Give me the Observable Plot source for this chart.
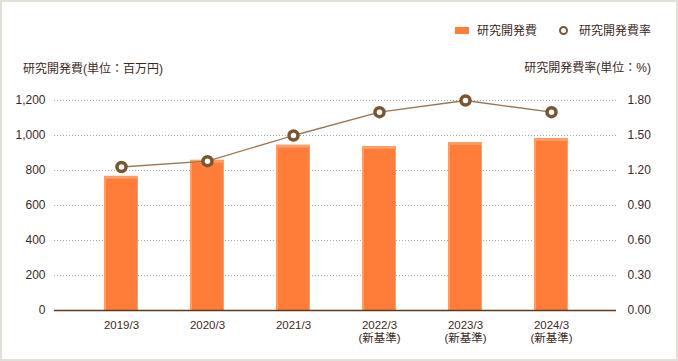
<!DOCTYPE html>
<html><head><meta charset="utf-8">
<script src="https://cdn.jsdelivr.net/npm/d3@7"></script>
<script src="https://cdn.jsdelivr.net/npm/@observablehq/plot@0.6"></script>
<style>
body{margin:0;background:#fff;}
#wrap{position:relative;width:678px;height:361px;font-family:"Liberation Sans","Noto Sans CJK JP",sans-serif;color:#3d2a1d;overflow:hidden;}
#chart{position:absolute;left:0;top:0;}
#frame{position:absolute;left:0;top:0;width:678px;height:361px;box-sizing:border-box;border:2px solid #e2dfd8;pointer-events:none;}
.t{position:absolute;font-size:12px;line-height:12px;white-space:nowrap;}
.sw{position:absolute;left:455px;top:27px;width:14px;height:7px;background:#ff7d38;}
.ring{position:absolute;left:559px;top:26px;width:5px;height:5px;border:2.5px solid #7a5530;border-radius:50%;background:#fff;}
</style></head><body>
<div id="wrap">
<div id="chart"></div>
<div class="sw"></div>
<div class="t" style="left:477px;top:25px">研究開発費</div>
<div class="ring"></div>
<div class="t" style="left:579px;top:25px">研究開発費率</div>
<div class="t" style="left:23px;top:63px">研究開発費(単位：百万円)</div>
<div class="t" style="right:27px;top:62px">研究開発費率(単位：%)</div>
<div id="frame"></div>
</div>
<script>
const categories = ["2019/3","2020/3","2021/3","2022/3","2023/3","2024/3"];
const xLabels = ["2019/3","2020/3","2021/3","2022/3\n(新基準)","2023/3\n(新基準)","2024/3\n(新基準)"];
const rdExpense = [767, 859, 945, 937, 960, 983];
const rdRatio = [1.23, 1.28, 1.50, 1.70, 1.80, 1.70];
const leftTicks = [0, 200, 400, 600, 800, 1000, 1200];
const rightTicks = ["0.00","0.30","0.60","0.90","1.20","1.50","1.80"];
const leftMax = 1200, rightMax = 1.8;

const k = leftMax / rightMax;
const data = categories.map((c, i) => ({cat: c, label: xLabels[i], expense: rdExpense[i], ratio: rdRatio[i]}));
const labelOf = Object.fromEntries(data.map(d => [d.cat, d.label]));

const chart = Plot.plot({
  width: 678,
  height: 361,
  marginLeft: 54,
  marginRight: 62,
  marginTop: 100,
  marginBottom: 51,
  style: {fontFamily: "'Liberation Sans', 'Noto Sans CJK JP', sans-serif", fontSize: "12px", color: "#3d2a1d", background: "transparent"},
  x: {domain: categories, range: [78, 595], paddingInner: 0.6, paddingOuter: 0.3},
  y: {domain: [0, leftMax]},
  marks: [
    Plot.ruleY(leftTicks.filter(d => d > 0), {stroke: "#a9a39b", strokeDasharray: "1,2", strokeWidth: 1}),
    Plot.barY(data, {x: "cat", y: "expense", fill: "#ff9d66"}),
    Plot.barY(data, {x: "cat", y: "expense", fill: "#ff7d38", insetLeft: 2, insetTop: 3, insetRight: 1}),
    Plot.ruleY([0], {stroke: "#5b3b1f", strokeWidth: 1.5}),
    Plot.line(data, {x: "cat", y: d => d.ratio * k, stroke: "#9b7652", strokeWidth: 1.3}),
    Plot.dot(data, {x: "cat", y: d => d.ratio * k, r: 4.5, stroke: "#7a5530", strokeWidth: 3.5, fill: "#fff"}),
    Plot.axisY({anchor: "left", ticks: leftTicks, tickSize: 0, tickPadding: 9, label: null, fontSize: 12}),
    Plot.axisY({anchor: "right", ticks: leftTicks, tickFormat: (d, i) => rightTicks[leftTicks.indexOf(d)], tickSize: 0, tickPadding: 11, textAnchor: "start", label: null, fontSize: 12}),
    Plot.axisX({tickSize: 0, tickPadding: 9, tickFormat: d => labelOf[d], label: null, fontSize: 11.5, lineHeight: 1.12})
  ]
});
document.getElementById("chart").appendChild(chart);
</script>
</body></html>
